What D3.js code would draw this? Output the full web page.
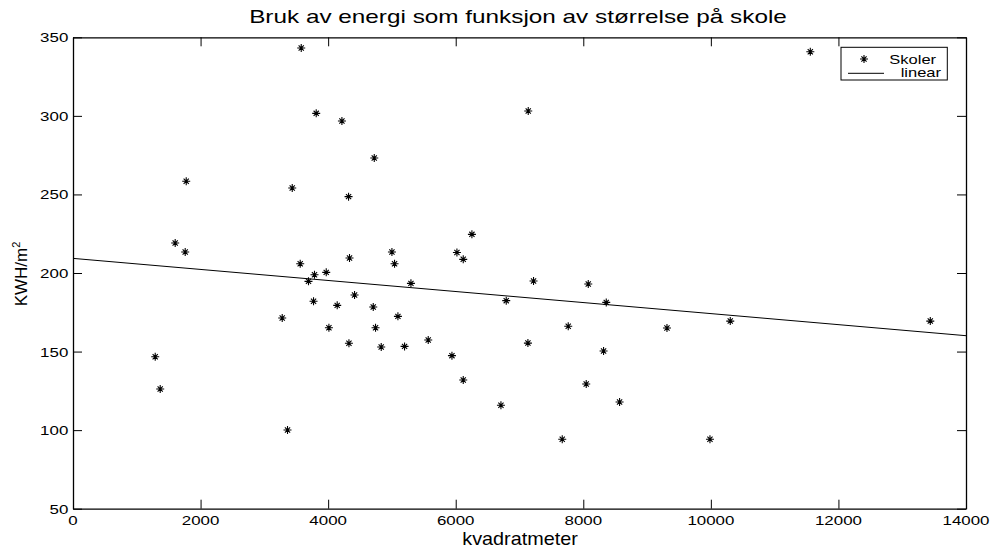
<!DOCTYPE html>
<html>
<head>
<meta charset="utf-8">
<script src="https://cdn.jsdelivr.net/npm/d3@7"></script>
<style>
  html, body { margin: 0; padding: 0; background: #fff; }
  svg { display: block; }
  text { font-family: "Liberation Sans", Arial, sans-serif; fill: #000; }
</style>
</head>
<body>
<svg id="chart" width="993" height="548"></svg>
<script>
// ---- data ----
const areaM2 = [1289, 1367, 1602, 1759, 1775, 3280, 3363, 3437, 3562, 3578,
  3692, 3771, 3786, 3813, 3970, 4012, 4142, 4216, 4320, 4326,
  4335, 4414, 4707, 4723, 4743, 4832, 5000, 5041, 5094, 5198,
  5298, 5569, 5941, 6019, 6118, 6118, 6254, 6709, 6792, 7132,
  7137, 7220, 7670, 7764, 8046, 8078, 8318, 8360, 8569, 9312,
  9986, 10304, 11559, 13440];
const kwhPerM2 = [146.7, 126.2, 219.1, 213.4, 258.4, 171.4, 100.1, 254.1, 205.9, 343.2,
  194.7, 182.0, 198.9, 301.6, 200.4, 165.2, 179.4, 296.7, 248.6, 155.3,
  209.5, 186.0, 178.4, 273.2, 165.2, 152.9, 213.4, 205.9, 172.4, 153.3,
  193.4, 157.4, 147.4, 213.0, 208.7, 131.9, 224.6, 115.8, 182.4, 155.4,
  303.1, 194.9, 94.2, 166.1, 129.4, 193.0, 150.4, 181.3, 117.9, 165.0,
  94.2, 169.4, 340.8, 169.4];
const fitX = [0, 14000];
const fitY = [209.3, 160.1];
const xTicks = [0, 2000, 4000, 6000, 8000, 10000, 12000, 14000];
const yTicks = [50, 100, 150, 200, 250, 300, 350];
const legendLabels = ["Skoler", "linear"];
const titleText = "Bruk av energi som funksjon av størrelse på skole";
const xLabelText = "kvadratmeter";

// ---- layout ----
const L = 73, R = 966, T = 37.3, B = 508.7;
const svg = d3.select("#chart");
const x = d3.scaleLinear().domain([0, 14000]).range([L, R]);
const y = d3.scaleLinear().domain([50, 350]).range([B, T]);
const tickLen = 9;

// fit line
svg.append("path")
  .datum(fitX.map((v, i) => [v, fitY[i]]))
  .attr("d", d3.line().x(d => x(d[0])).y(d => y(d[1])))
  .attr("fill", "none").attr("stroke", "#000").attr("stroke-width", 1);

// star marker
const starPath = "M-4,0H4M0,-4V4M-2.6,-2.6L2.6,2.6M-2.6,2.6L2.6,-2.6";
svg.append("g").selectAll("path")
  .data(areaM2.map((v, i) => [v, kwhPerM2[i]]))
  .join("path")
  .attr("transform", d => `translate(${x(d[0])},${y(d[1])})`)
  .attr("d", starPath)
  .attr("fill", "none").attr("stroke", "#000").attr("stroke-width", 1.1);

// axes (box with inward ticks)
const gx = svg.append("g").attr("transform", `translate(0,${B})`)
  .call(d3.axisBottom(x).tickValues(xTicks).tickSizeInner(-tickLen).tickSizeOuter(0).tickFormat(""));
const gxt = svg.append("g").attr("transform", `translate(0,${T})`)
  .call(d3.axisTop(x).tickValues(xTicks).tickSizeInner(-tickLen).tickSizeOuter(0).tickFormat(""));
const gy = svg.append("g").attr("transform", `translate(${L},0)`)
  .call(d3.axisLeft(y).tickValues(yTicks).tickSizeInner(-tickLen).tickSizeOuter(0).tickFormat(""));
const gyr = svg.append("g").attr("transform", `translate(${R},0)`)
  .call(d3.axisRight(y).tickValues(yTicks).tickSizeInner(-tickLen).tickSizeOuter(0).tickFormat(""));
[gx, gxt, gy, gyr].forEach(g => {
  g.selectAll("path.domain").attr("stroke", "#000").attr("stroke-width", 1.3);
  g.selectAll(".tick line").attr("stroke", "#000").attr("stroke-width", 1);
});

// tick labels (wide font look)
const tickFs = 13, tickSx = 1.3;
svg.append("g").selectAll("text").data(xTicks).join("text")
  .attr("transform", d => `translate(${x(d)},525.3) scale(${tickSx},1)`)
  .attr("text-anchor", "middle").attr("font-size", tickFs)
  .text(d => d);
svg.append("g").selectAll("text").data(yTicks).join("text")
  .attr("transform", d => `translate(68.3,${y(d) + 5}) scale(${tickSx},1)`)
  .attr("text-anchor", "end").attr("font-size", tickFs)
  .text(d => d);

// title
svg.append("text")
  .attr("transform", `translate(518,23.3) scale(1.28,1)`)
  .attr("text-anchor", "middle").attr("font-size", 19)
  .text(titleText);

// x label
svg.append("text")
  .attr("transform", `translate(520,545) scale(1.1,1)`)
  .attr("text-anchor", "middle").attr("font-size", 18)
  .text(xLabelText);

// y label
const yl = svg.append("text")
  .attr("transform", `translate(27.3,274) rotate(-90)`)
  .attr("text-anchor", "middle").attr("font-size", 17);
yl.append("tspan").text("KWH/m");
yl.append("tspan").attr("font-size", 11).attr("dy", -7).text("2");

// legend
const lg = svg.append("g");
lg.append("rect").attr("x", 841).attr("y", 47.3).attr("width", 106.3).attr("height", 32.7)
  .attr("fill", "#fff").attr("stroke", "#000").attr("stroke-width", 1);
lg.append("path").attr("transform", "translate(864,59)").attr("d", starPath)
  .attr("fill", "none").attr("stroke", "#000").attr("stroke-width", 1.1);
lg.append("line").attr("x1", 848).attr("x2", 884).attr("y1", 73.3).attr("y2", 73.3)
  .attr("stroke", "#000").attr("stroke-width", 1);
lg.append("text").attr("transform", "translate(889.3,64) scale(1.27,1)")
  .attr("font-size", 13).text(legendLabels[0]);
lg.append("text").attr("transform", "translate(900.7,77.2) scale(1.27,1)")
  .attr("font-size", 13).text(legendLabels[1]);
</script>
</body>
</html>
